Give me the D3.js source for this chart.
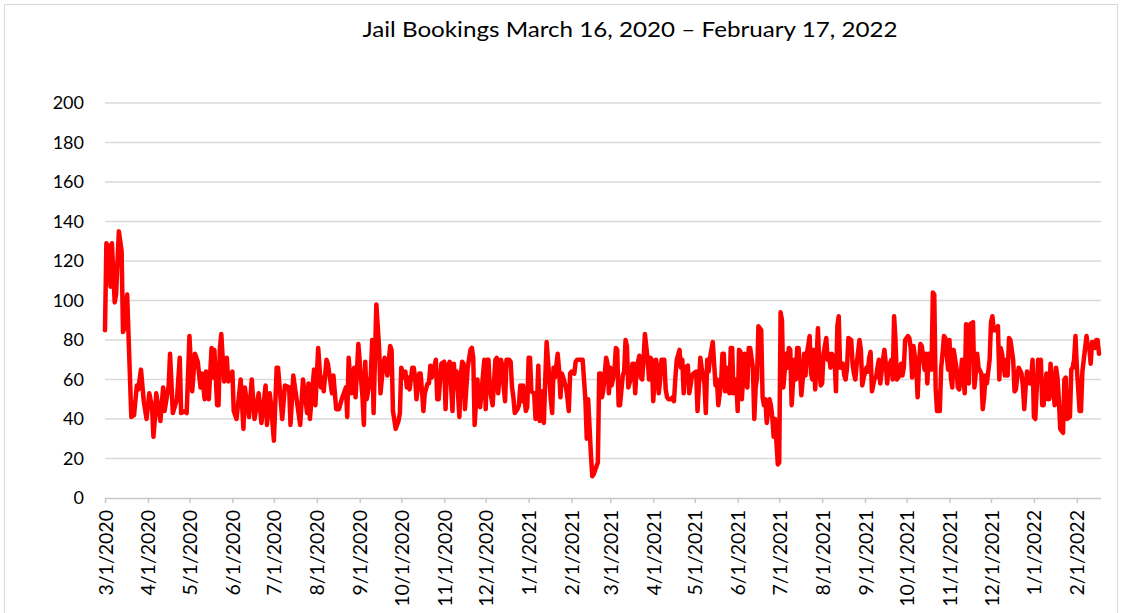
<!DOCTYPE html>
<html>
<head>
<meta charset="utf-8">
<script src="https://cdn.jsdelivr.net/npm/d3@7"></script>
<style>
  html, body { margin: 0; padding: 0; background: #fff; }
  svg { display: block; font-family: Lato, 'Liberation Sans', sans-serif; }
</style>
</head>
<body>
<div id="container"></div>
<script>
const title = 'Jail Bookings March 16, 2020 \u2013 February 17, 2022'
const startDate = new Date(2020, 2, 1)
const endDate = new Date(2022, 1, 17)
const yTicks = [0, 20, 40, 60, 80, 100, 120, 140, 160, 180, 200]

// days since 3/1/2020 (peaks and dips)
const dayOffsets = [
  0, 1, 2, 4, 5, 7, 8, 10, 12, 13, 14, 16, 19, 21, 23, 24, 26, 28, 30, 32, 34, 35, 36, 37, 40, 42, 43, 46, 47, 49, 52, 54, 55, 58, 59, 61, 63,
  65, 67, 69, 70, 72, 73, 75, 77, 78, 79, 81, 82, 83, 84, 86, 88, 89, 92, 93, 95, 98, 100, 101, 104, 106, 108, 111, 113, 116, 117, 119, 120, 122, 124, 125, 128, 130, 133, 134, 136,
  139, 141, 143, 146, 147, 148, 151, 152, 154, 156, 157, 158, 160, 161, 164, 165, 167, 169, 171, 174, 175, 176, 178, 180, 181, 183, 186, 187, 188, 189, 192, 193, 194, 196, 198, 199, 201, 202, 204, 206, 207, 208,
  210, 212, 213, 214, 216, 217, 218, 219, 220, 222, 223, 224, 225, 227, 228, 229, 230, 231, 233, 234, 235, 236, 239, 240, 241, 243, 245, 246, 247, 249, 251, 252, 253, 254, 256, 257, 258, 259, 260, 262, 264, 265, 266, 267, 269, 270, 271, 274, 275, 276, 277, 278, 280,
  282, 283, 284, 286, 287, 288, 289, 290, 292, 293, 294, 295, 296, 298, 299, 300, 301, 302, 304, 305, 306, 307, 308, 310, 311, 312, 313, 314, 316, 317, 318, 319, 321, 322, 323, 324, 325, 327, 328, 329, 330, 331, 333, 334, 335, 336, 337, 339, 340, 341, 342, 343, 345, 346, 347, 348, 349, 351, 352, 353,
  354, 356, 357, 358, 359, 360, 362, 363, 364, 365, 366, 368, 369, 370, 371, 372, 374, 375, 376, 377, 378, 380, 381, 382, 383, 384, 386, 387, 388, 389, 390, 392, 393, 394, 395, 396, 398, 399, 400, 401, 402, 404, 405, 406, 407, 409, 410, 411, 412, 413, 415, 416, 417, 418, 419, 421, 422, 423, 424, 425,
  427, 428, 429, 430, 431, 433, 434, 435, 436, 437, 439, 440, 441, 442, 443, 445, 446, 447, 448, 449, 451, 452, 453, 454, 456, 457, 458, 459, 460, 462, 463, 464, 465, 466, 468, 469, 470, 471, 472, 474, 475, 476, 477, 478, 480, 481, 482, 483, 484, 486, 487, 488, 489, 490, 492, 493, 494, 495, 496, 498,
  499, 500, 501, 503, 504, 505, 506, 507, 509, 510, 511, 512, 513, 515, 516, 517, 518, 519, 521, 522, 523, 524, 525, 527, 528, 529, 530, 531, 533, 534, 535, 536, 537, 539, 540, 541, 542, 543, 545, 546, 547, 548, 550, 551, 552, 553, 554, 556, 557, 558, 559, 560, 562, 563, 564, 565, 566, 568, 569, 570,
  571, 572, 574, 575, 576, 577, 578, 580, 581, 582, 583, 584, 586, 587, 588, 589, 590, 592, 593, 594, 595, 597, 598, 599, 600, 601, 603, 604, 605, 606, 607, 609, 610, 611, 612, 613, 615, 616, 617, 618, 619, 621, 622, 623, 624, 625, 627, 628, 629, 630, 631, 633, 634, 635, 636, 637, 639, 640, 641, 642,
  644, 645, 646, 647, 648, 650, 651, 652, 653, 654, 656, 657, 658, 659, 660, 662, 663, 664, 665, 666, 668, 669, 670, 671, 672, 674, 675, 676, 677, 678, 680, 681, 682, 683, 684, 686, 687, 688, 689, 690, 692, 693, 694, 695, 697, 698, 699, 700, 701, 702, 704, 705, 706, 707, 709, 710, 711, 712, 713, 715, 716, 717, 718
]

const bookings = [
  85, 129, 128, 107, 129, 99, 103, 135, 125, 84, 86, 103, 41, 42, 57, 55, 65, 49, 40, 53, 46, 31, 40, 53, 39, 56, 44, 57, 73, 43, 50, 71, 43, 44, 43, 82, 54,
  73, 69, 56, 63, 50, 64, 50, 76, 61, 75, 47, 47, 76, 83, 59, 71, 59, 64, 44, 40, 60, 35, 56, 41, 60, 40, 53, 38, 57, 37, 53, 47, 29, 66, 66, 40, 57, 56, 37, 62,
  47, 37, 60, 43, 58, 40, 65, 47, 76, 56, 61, 54, 70, 68, 53, 62, 45, 45, 50, 56, 41, 71, 53, 66, 51, 78, 51, 37, 69, 50, 62, 80, 43, 98, 76, 53, 68, 71, 62, 77, 75, 44,
  35, 39, 43, 66, 61, 64, 56, 61, 55, 66, 66, 61, 50, 63, 63, 54, 44, 53, 58, 58, 67, 61, 70, 50, 50, 68, 69, 45, 66, 69, 44, 68, 56, 64, 41, 62, 69, 68, 45, 66, 75, 76, 71, 37, 60, 49, 46, 70, 45, 70, 70, 55, 47,
  70, 71, 53, 70, 67, 56, 49, 70, 70, 69, 56, 51, 43, 45, 47, 57, 49, 57, 44, 46, 71, 71, 54, 53, 40, 47, 67, 39, 54, 38, 60, 79, 60, 50, 43, 66, 61, 73, 65, 51, 63, 61, 56, 51, 44, 63, 64, 63, 69, 70, 70, 70, 70, 60, 50, 30, 50, 22, 11, 12,
  14, 18, 63, 63, 51, 55, 71, 68, 53, 66, 57, 64, 76, 75, 47, 47, 62, 64, 80, 77, 56, 61, 68, 68, 53, 66, 72, 61, 60, 70, 83, 70, 60, 71, 70, 49, 70, 66, 53, 60, 70, 70, 55, 51, 50, 50, 51, 49, 61, 70, 75, 66, 70, 53, 66, 67, 53, 57, 62, 63,
  64, 44, 57, 71, 66, 58, 43, 70, 64, 71, 79, 68, 57, 60, 47, 58, 73, 73, 54, 66, 53, 76, 76, 53, 60, 44, 75, 74, 50, 73, 58, 56, 76, 76, 66, 40, 56, 61, 87, 85, 51, 47, 50, 38, 50, 47, 41, 31, 40, 17, 18, 94, 90, 56, 73, 66, 76, 75, 47, 70,
  60, 76, 76, 52, 60, 73, 62, 73, 82, 63, 60, 75, 55, 86, 65, 57, 58, 73, 81, 70, 73, 66, 73, 70, 54, 87, 92, 66, 68, 62, 60, 66, 81, 80, 68, 63, 60, 68, 80, 75, 57, 61, 66, 64, 71, 74, 54, 61, 61, 66, 70, 58, 70, 75, 68, 58, 66, 70, 60, 92,
  80, 60, 62, 68, 62, 66, 80, 82, 81, 76, 61, 77, 66, 51, 68, 78, 77, 65, 73, 58, 73, 65, 104, 103, 56, 44, 44, 66, 73, 82, 81, 65, 80, 61, 56, 75, 66, 56, 55, 61, 70, 53, 88, 66, 58, 88, 89, 56, 63, 73, 66, 63, 45, 51, 62, 58, 70, 89, 92, 85,
  85, 87, 60, 76, 73, 62, 70, 62, 81, 80, 70, 54, 55, 62, 66, 63, 57, 45, 56, 64, 58, 61, 70, 41, 40, 70, 63, 70, 47, 47, 63, 50, 50, 68, 61, 47, 66, 61, 50, 35, 33, 60, 61, 40, 41, 65, 66, 70, 82, 66, 44, 44, 64, 70, 82, 76, 76, 68, 79, 76, 80, 80, 73
]

const w = 1131
const h = 613
const plotLeft = 105
const plotRight = 1099
const plotTop = 103
const plotBottom = 498

const n = Math.min(dayOffsets.length, bookings.length)
const data = d3.range(n).map(i => ({ date: d3.timeDay.offset(startDate, dayOffsets[i]), value: bookings[i] }))

const svg = d3.select('#container')
  .append('svg')
  .attr('width', w)
  .attr('height', h)

// chart frame
svg.append('rect')
  .attr('x', 4.5)
  .attr('y', 4.5)
  .attr('width', 1113)
  .attr('height', 640)
  .attr('fill', 'none')
  .attr('stroke', '#d9d9d9')

const xScale = d3.scaleTime()
  .domain([startDate, endDate])
  .range([plotLeft, plotRight])

const yScale = d3.scaleLinear()
  .domain([0, 200])
  .range([plotBottom, plotTop])

// gridlines
svg.append('g')
  .selectAll('line')
  .data(yTicks.filter(t => t > 0))
  .enter().append('line')
  .attr('x1', plotLeft)
  .attr('x2', plotRight + 2)
  .attr('y1', d => yScale(d))
  .attr('y2', d => yScale(d))
  .attr('stroke', '#d9d9d9')
  .attr('stroke-width', 1.5)

const yAxis = d3.axisLeft(yScale)
  .tickValues(yTicks)
  .tickSize(0)
  .tickPadding(21)

svg.append('g')
  .attr('transform', 'translate(' + plotLeft + ',0)')
  .call(yAxis)
  .call(g => g.select('.domain').remove())
  .selectAll('text')
  .style('font-size', '18px')
  .style('font-family', 'Lato, sans-serif')
  .attr('fill', '#000')

const monthTicks = d3.timeMonth.range(startDate, d3.timeDay.offset(endDate, 1))
const xAxis = d3.axisBottom(xScale)
  .tickValues(monthTicks)
  .tickSize(5)
  .tickSizeOuter(0)
  .tickFormat(d3.timeFormat('%-m/%-d/%Y'))

const xg = svg.append('g')
  .attr('transform', 'translate(0,' + plotBottom + ')')
  .call(xAxis)

xg.select('.domain')
  .attr('d', 'M' + plotLeft + ',0.5H' + (plotRight + 2))
  .attr('stroke', '#c8c8c8')
  .attr('stroke-width', 1.5)
xg.selectAll('.tick line')
  .attr('stroke', '#c8c8c8')
  .attr('stroke-width', 1.5)
xg.selectAll('.tick text')
  .attr('transform', 'rotate(-90)')
  .attr('text-anchor', 'end')
  .attr('x', -12)
  .attr('y', 0)
  .attr('dy', '0.36em')
  .attr('fill', '#000')
  .style('font-size', '19.5px')
  .style('font-family', 'Lato, sans-serif')

const line = d3.line()
  .x(d => xScale(d.date))
  .y(d => yScale(d.value))

svg.append('path')
  .datum(data)
  .attr('d', line)
  .attr('fill', 'none')
  .attr('stroke', '#ff0000')
  .attr('stroke-width', 4.5)
  .attr('stroke-linejoin', 'round')
  .attr('stroke-linecap', 'round')

svg.append('text')
  .attr('x', 630)
  .attr('y', 37)
  .attr('text-anchor', 'middle')
  .attr('textLength', 535)
  .attr('lengthAdjust', 'spacingAndGlyphs')
  .style('font-size', '22px')
  .style('font-family', 'Lato, sans-serif')
  .text(title)
</script>
</body>
</html>
